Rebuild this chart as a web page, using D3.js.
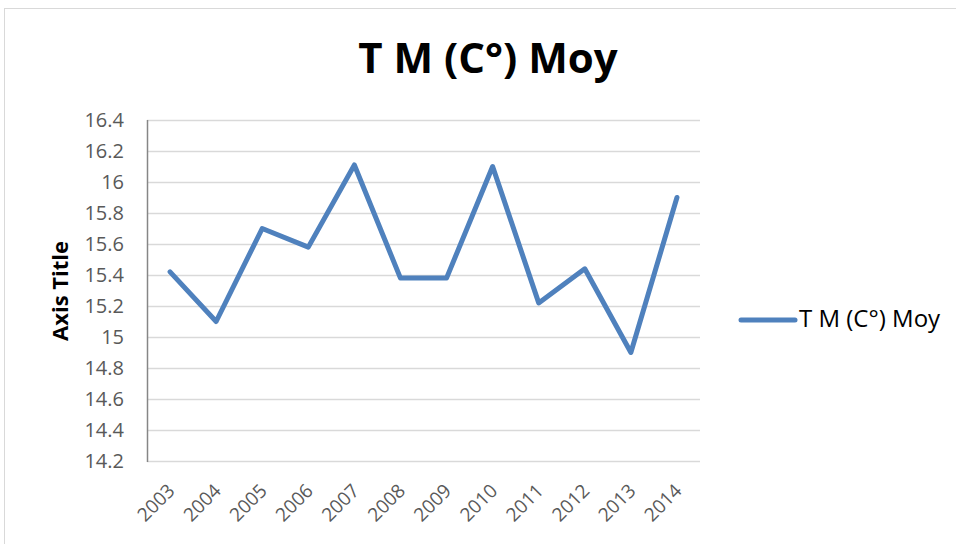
<!DOCTYPE html>
<html>
<head>
<meta charset="utf-8">
<script src="https://cdn.jsdelivr.net/npm/d3@7"></script>
<style>
  body { margin: 0; background: #fff; }
  text { font-family: "Open Sans", Lato, sans-serif; }
</style>
</head>
<body>
<svg id="chart" width="956" height="544"></svg>
<script>
// data
var years = ["2003", "2004", "2005", "2006", "2007", "2008", "2009", "2010", "2011", "2012", "2013", "2014"];
var tempMoy = [15.42, 15.10, 15.70, 15.58, 16.11, 15.38, 15.38, 16.10, 15.22, 15.44, 14.90, 15.90];
var yTicks = [14.2, 14.4, 14.6, 14.8, 15, 15.2, 15.4, 15.6, 15.8, 16, 16.2, 16.4];
var seriesName = "T M (C°) Moy";

var svg = d3.select("#chart");

// chart border
svg.append("rect")
  .attr("x", 4.5).attr("y", 8.5)
  .attr("width", 960).attr("height", 560)
  .attr("fill", "#fff")
  .attr("stroke", "#d9d9d9");

var plotL = 147, plotR = 700, plotT = 120, plotB = 461;

var x = d3.scaleBand().domain(years).range([plotL, plotR]);
var y = d3.scaleLinear().domain([14.2, 16.4]).range([plotB, plotT]);

// gridlines
svg.append("g")
  .selectAll("line")
  .data(yTicks)
  .enter()
  .append("line")
  .attr("x1", plotL).attr("x2", plotR)
  .attr("y1", function(d) { return Math.round(y(d)) + 0.5; })
  .attr("y2", function(d) { return Math.round(y(d)) + 0.5; })
  .attr("stroke", "#d9d9d9")
  .attr("stroke-width", 1.5);

// y axis line
svg.append("line")
  .attr("x1", plotL + 0.5).attr("x2", plotL + 0.5)
  .attr("y1", plotT).attr("y2", plotB + 1)
  .attr("stroke", "#868686")
  .attr("stroke-width", 1.5);

// y tick labels
svg.append("g")
  .selectAll("text")
  .data(yTicks)
  .enter()
  .append("text")
  .attr("x", 124)
  .attr("y", function(d) { return y(d); })
  .attr("dy", "0.35em")
  .attr("text-anchor", "end")
  .attr("font-size", 20)
  .attr("fill", "#595959")
  .text(function(d) { return String(+d.toFixed(1)); });

// x tick labels
svg.append("g")
  .selectAll("text")
  .data(years)
  .enter()
  .append("text")
  .attr("text-anchor", "end")
  .attr("font-size", 19)
  .attr("fill", "#595959")
  .attr("transform", function(d) {
    var cx = x(d) + x.bandwidth() / 2 + 6;
    return "translate(" + cx + ",492) rotate(-45)";
  })
  .text(function(d) { return d; });

// the line
var line = d3.line()
  .x(function(d, i) { return x(years[i]) + x.bandwidth() / 2; })
  .y(function(d) { return y(d); });

svg.append("path")
  .datum(tempMoy)
  .attr("d", line)
  .attr("fill", "none")
  .attr("stroke", "#4f81bd")
  .attr("stroke-width", 5)
  .attr("stroke-linejoin", "round")
  .attr("stroke-linecap", "round");

// title
svg.append("text")
  .attr("x", 488).attr("y", 73)
  .attr("text-anchor", "middle")
  .attr("font-size", 42)
  .attr("font-weight", "bold")
  .attr("fill", "#000")
  .text(seriesName);

// y axis title
svg.append("text")
  .attr("transform", "translate(68,291) rotate(-90)")
  .attr("text-anchor", "middle")
  .attr("font-size", 22)
  .attr("font-weight", "bold")
  .attr("fill", "#000")
  .text("Axis Title");

// legend
svg.append("line")
  .attr("x1", 741).attr("x2", 795)
  .attr("y1", 320).attr("y2", 320)
  .attr("stroke", "#4f81bd")
  .attr("stroke-width", 5)
  .attr("stroke-linecap", "round");

svg.append("text")
  .attr("x", 799).attr("y", 327)
  .attr("font-size", 24)
  .attr("fill", "#000")
  .text(seriesName);
</script>
</body>
</html>
